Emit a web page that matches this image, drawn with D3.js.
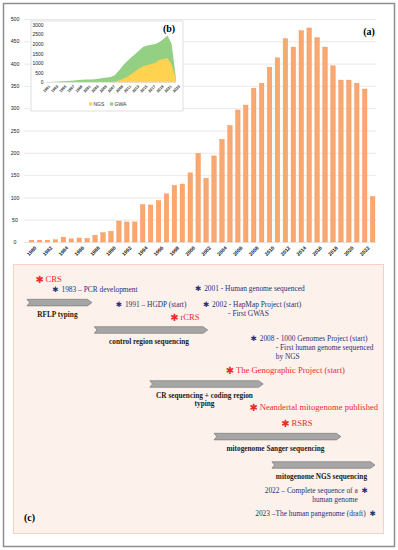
<!DOCTYPE html>
<html>
<head>
<meta charset="utf-8">
<script src="https://cdn.jsdelivr.net/npm/d3@7/dist/d3.min.js"></script>
<style>
  body { margin: 0; background: #fff; }
  svg { display: block; }
</style>
</head>
<body>
<svg id="fig" width="398" height="550"></svg>
<script>
// (a) publications per year
const years = [1980,1981,1982,1983,1984,1985,1986,1987,1988,1989,1990,1991,1992,1993,1994,1995,1996,1997,1998,1999,
  2000,2001,2002,2003,2004,2005,2006,2007,2008,2009,2010,2011,2012,2013,2014,2015,2016,2017,2018,2019,2020,2021,2022,2023];
const papers = [4,4,4,5,11,7,9,8,15,21,24,47,45,45,84,83,93,108,127,130,
  155,199,143,193,230,261,296,307,345,356,392,413,456,437,474,480,458,437,395,363,363,356,343,102];
const yTicks = [0,50,100,150,200,250,300,350,400,450,500];

// (b) inset: NGS vs GWA
const insetYears = [1991,1992,1993,1994,1995,1996,1997,1998,1999,2000,2001,2002,2003,2004,2005,2006,2007,
  2008,2009,2010,2011,2012,2013,2014,2015,2016,2017,2018,2019,2020,2021,2022,2023];
const gwa = [10,15,25,40,50,65,85,100,115,130,140,150,160,180,230,250,270,
  380,620,870,1090,1290,1480,1650,1850,1920,1960,2000,2100,2250,2440,1990,320];
const ngs = [0,0,0,0,0,0,0,0,0,0,0,0,0,0,0,0,10,
  30,90,180,270,420,570,720,840,900,950,1020,1170,1210,1260,920,240];
const insetTicks = [0,500,1000,1500,2000,2500,3000];

// (c) timeline
const phases = [
  { name: ["RFLP typing"], from: 1979.4, to: 1987.6 },
  { name: ["control region sequencing"], from: 1987.9, to: 2002.2 },
  { name: ["CR sequencing + coding region", "typing"], from: 1994.9, to: 2009.2 },
  { name: ["mitogenome Sanger sequencing"], from: 2003, to: 2019 },
  { name: ["mitogenome NGS sequencing"], from: 2010.3, to: 2023.3 }
];
const events = [
  { year: 1981, kind: "ref", lines: ["CRS"] },
  { year: 1983, kind: "milestone", lines: ["1983 – PCR development"] },
  { year: 1991, kind: "milestone", lines: ["1991 – HGDP (start)"] },
  { year: 1998, kind: "ref", lines: ["rCRS"] },
  { year: 2001, kind: "milestone", lines: ["2001 - Human genome sequenced"] },
  { year: 2002, kind: "milestone", lines: ["2002 -  HapMap Project (start)", "- First GWAS"] },
  { year: 2008, kind: "milestone", lines: ["2008 - 1000 Genomes Project (start)", "- First human genome sequenced", "by NGS"] },
  { year: 2005, kind: "ref", lines: ["The Genographic Project (start)"] },
  { year: 2008, kind: "ref", lines: ["Neandertal mitogenome published"] },
  { year: 2012, kind: "ref", lines: ["RSRS"] },
  { year: 2022, kind: "milestone", right: true, lines: ["2022 – Complete sequence of a", "human genome"] },
  { year: 2023, kind: "milestone", right: true, lines: ["2023 –The human pangenome (draft)"] }
];

const svg = d3.select("#fig");
const serif = "'Liberation Serif', 'DejaVu Serif', serif";
const sans = "'Liberation Sans', Arial, sans-serif";
const navy = "#26317a";
const red = "#ee2a2a";

svg.append("rect").attr("width", 398).attr("height", 550).attr("fill", "#fff");

// ---------- (a) bar chart ----------
const x = d3.scaleBand().domain(years).range([27.7, 376.6]).paddingInner(0.43).paddingOuter(0.215);
const y = d3.scaleLinear().domain([0, 500]).range([242, 19]);

const yAxis = svg.append("g")
  .attr("transform", "translate(24,0)")
  .call(d3.axisLeft(y).tickValues(yTicks).tickSize(-352).tickPadding(0));
yAxis.select(".domain").remove();
yAxis.selectAll("line").attr("stroke", "#e2e2e2").attr("stroke-width", 0.8);
yAxis.selectAll("text")
  .attr("x", -9).attr("text-anchor", "middle")
  .attr("font-family", sans).attr("font-size", 5.2).attr("fill", "#222");

svg.append("g").selectAll("rect")
  .data(papers)
  .join("rect")
  .attr("x", (d, i) => x(years[i]))
  .attr("y", d => y(d))
  .attr("width", x.bandwidth())
  .attr("height", d => y(0) - y(d))
  .attr("fill", "#f8a870")
  .attr("stroke", "#f39256")
  .attr("stroke-width", 0.4);

const xAxis = svg.append("g")
  .attr("transform", "translate(0,242)")
  .call(d3.axisBottom(x).tickValues(years.filter(v => v % 2 === 0)).tickSize(0));
xAxis.select(".domain").remove();
xAxis.selectAll("text")
  .attr("y", 0).attr("dy", "0.35em").attr("text-anchor", "middle")
  .attr("transform", "translate(0,9) rotate(-45)")
  .attr("font-family", sans).attr("font-size", 5).attr("font-weight", "bold").attr("fill", "#111");

svg.append("text").attr("x", 369).attr("y", 31).attr("dy", "0.35em")
  .attr("text-anchor", "middle").attr("font-family", serif)
  .attr("font-size", 10).attr("font-weight", "bold").text("(a)");

// ---------- (b) inset ----------
const inset = svg.append("g");
inset.append("rect").attr("x", 31).attr("y", 21).attr("width", 152).attr("height", 90)
  .attr("fill", "#fff").attr("stroke", "#d6d6d6").attr("stroke-width", 0.8);

const xi = d3.scaleLinear().domain([1991, 2023]).range([46, 175.7]);
const yi = d3.scaleLinear().domain([0, 3000]).range([82.3, 24.7]);

const area = vals => d3.area()
  .x((d, i) => xi(insetYears[i]))
  .y0(yi(0))
  .y1(d => yi(d))(vals);

inset.append("path").attr("d", area(gwa)).attr("fill", "#93d083");
inset.append("path").attr("d", area(ngs)).attr("fill", "#ffd24f");
inset.append("line").attr("x1", 46).attr("x2", 175.7).attr("y1", yi(0)).attr("y2", yi(0))
  .attr("stroke", "#d9d9d9").attr("stroke-width", 0.6);

const yiAxis = inset.append("g").attr("transform", "translate(46,0)")
  .call(d3.axisLeft(yi).tickValues(insetTicks).tickFormat(d3.format("d")).tickSize(0).tickPadding(2.5));
yiAxis.select(".domain").remove();
yiAxis.selectAll("text").attr("font-family", sans).attr("font-size", 5).attr("fill", "#222");

const xiAxis = inset.append("g").attr("transform", `translate(0,${yi(0)})`)
  .call(d3.axisBottom(xi).tickValues(insetYears.filter(v => v % 2 === 1)).tickFormat(d3.format("d")).tickSize(0));
xiAxis.select(".domain").remove();
xiAxis.selectAll("text")
  .attr("y", 0).attr("dy", "0.35em").attr("text-anchor", "middle")
  .attr("transform", "translate(0,6.5) rotate(-45)")
  .attr("font-family", sans).attr("font-size", 3.8).attr("font-weight", "bold").attr("fill", "#222");

const legend = inset.append("g").attr("transform", "translate(89,104)");
[["NGS", "#ffd24f"], ["GWA", "#93d083"]].forEach(([label, color], i) => {
  legend.append("rect").attr("x", i * 21).attr("y", -1.6).attr("width", 3.2).attr("height", 3.2).attr("fill", color);
  legend.append("text").attr("x", i * 21 + 4.5).attr("y", 0).attr("dy", "0.35em")
    .attr("font-family", sans).attr("font-size", 5).attr("fill", "#333").text(label);
});

inset.append("text").attr("x", 169).attr("y", 28.5).attr("dy", "0.35em")
  .attr("text-anchor", "middle").attr("font-family", serif)
  .attr("font-size", 10).attr("font-weight", "bold").text("(b)");

// ---------- (c) timeline ----------
const tl = d3.scaleLinear().domain([1980, 2023])
  .range([x(1980) + x.bandwidth() / 2, x(2023) + x.bandwidth() / 2]);

const panel = svg.append("g");
panel.append("rect").attr("x", 13.5).attr("y", 264.5).attr("width", 370).attr("height", 269)
  .attr("fill", "#fdf1eb").attr("stroke", "#f6d2c6").attr("stroke-width", 1);

// vertical layout of the arrows and event rows
const phaseTop = [299.3, 326.7, 380.7, 433.3, 461.7];
const eventRow = [279, 289, 304, 317, 288, 304.5, 338.5, 370.3, 407.3, 423.3, 490.7, 513.3];

const chevron = (x0, x1, top, h) => {
  const head = 4.5, notch = 2.6;
  return `M${x0},${top}L${x1 - head},${top}L${x1},${top + h / 2}L${x1 - head},${top + h}L${x0},${top + h}L${x0 + notch},${top + h / 2}Z`;
};

phases.forEach((p, i) => {
  const x0 = tl(p.from), x1 = tl(p.to), top = phaseTop[i];
  panel.append("path").attr("d", chevron(x0, x1, top, 6.6))
    .attr("fill", "#a6a6a6").attr("stroke", "#6e6e6e").attr("stroke-width", 0.6);
  const cx = (x0 + x1 - 4) / 2;
  p.name.forEach((line, j) => {
    panel.append("text").attr("x", cx).attr("y", top + 15 + j * 8.2).attr("dy", "0.35em")
      .attr("text-anchor", "middle").attr("font-family", serif)
      .attr("font-size", 7.3).attr("font-weight", "bold").attr("fill", "#1a1a1a").text(line);
  });
});

events.forEach((e, i) => {
  const ax = tl(e.year), cy = eventRow[i];
  const isRef = e.kind === "ref";
  const color = isRef ? red : navy;
  panel.append("text").attr("x", ax).attr("y", cy).attr("dy", "0.36em")
    .attr("text-anchor", "middle").attr("font-family", "'DejaVu Sans', sans-serif")
    .attr("font-size", isRef ? 10 : 7.5).attr("fill", color).text("\u2731");
  e.lines.forEach((line, j) => {
    let tx, anchor;
    if (e.right) { tx = ax - 7; anchor = "end"; }
    else { tx = ax + 6 + (j > 0 ? 16 : 0); anchor = "start"; }
    panel.append("text").attr("x", tx).attr("y", cy + j * 9).attr("dy", "0.35em")
      .attr("text-anchor", anchor).attr("font-family", serif)
      .attr("font-size", isRef ? 8.6 : 7.4).attr("fill", color).text(line);
  });
});

panel.append("text").attr("x", 29.5).attr("y", 517).attr("dy", "0.35em")
  .attr("text-anchor", "middle").attr("font-family", serif)
  .attr("font-size", 10).attr("font-weight", "bold").text("(c)");

// outer frame
svg.append("rect").attr("x", 3.5).attr("y", 3.5).attr("width", 391).attr("height", 543)
  .attr("fill", "none").attr("stroke", "#8e8e8e").attr("stroke-width", 1.5);
</script>
</body>
</html>
